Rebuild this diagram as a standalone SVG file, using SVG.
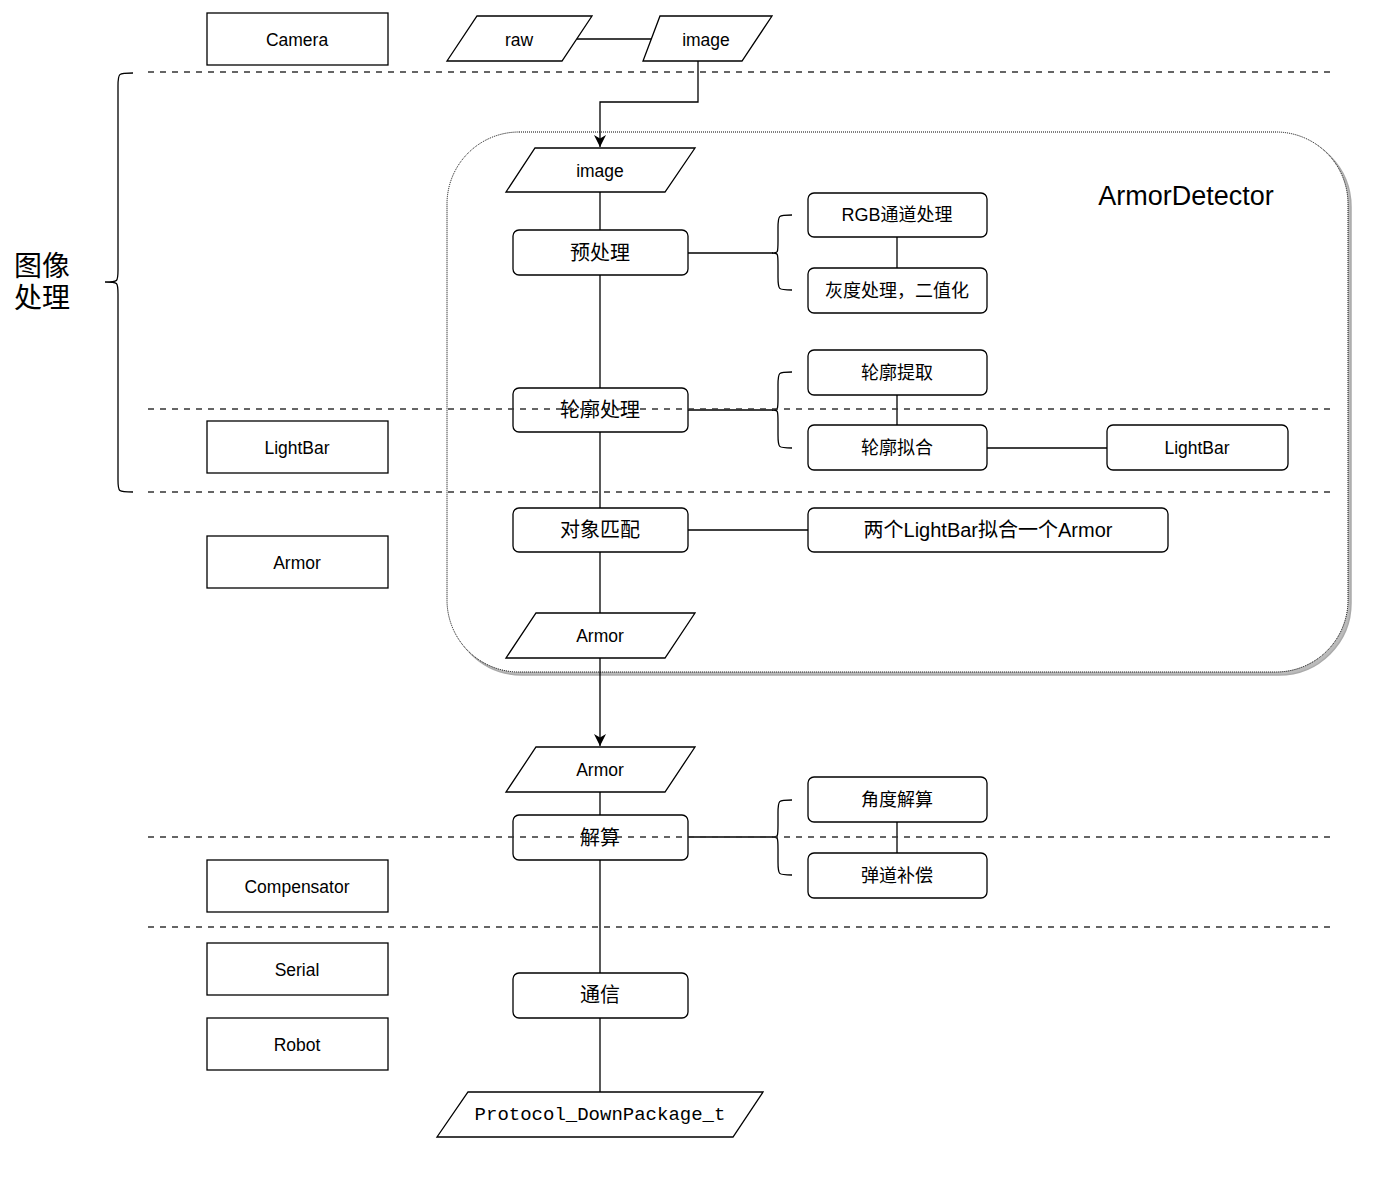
<svg xmlns="http://www.w3.org/2000/svg" width="1400" height="1187" viewBox="0 0 1400 1187">
<style>
.n{fill:#fff;stroke:#000;stroke-width:1.3}
.c{fill:none;stroke:#000;stroke-width:1.3}
.d{fill:none;stroke:#333;stroke-width:1.5;stroke-dasharray:6 6}
.t{font-family:"Liberation Sans","Noto Sans CJK SC",sans-serif;font-size:17.5px;fill:#000;text-anchor:middle;dominant-baseline:central}
.ts{font-family:"Liberation Sans","Noto Sans CJK SC",sans-serif;font-size:18px;fill:#000;text-anchor:middle;dominant-baseline:central}
.tz{font-family:"Liberation Sans","Noto Sans CJK SC",sans-serif;font-size:20px;fill:#000;text-anchor:middle;dominant-baseline:central}
.m{font-family:"Liberation Mono","DejaVu Sans Mono",monospace;font-size:19px;fill:#000;text-anchor:middle;dominant-baseline:central}
</style>
<defs>
<marker id="arr" markerWidth="14" markerHeight="14" refX="12" refY="7" orient="auto" markerUnits="userSpaceOnUse">
<path d="M0,1 L12,7 L0,13 L3.5,7 Z" fill="#000"/>
</marker>
</defs>
<rect width="1400" height="1187" fill="#fff"/>

<g id="armordetector">
<rect x="450" y="135" width="901" height="540" rx="72" fill="#bbb" stroke="#aaa" stroke-width="1.5"/>
<rect x="447" y="132" width="901" height="540" rx="72" fill="#fff" stroke="#000" stroke-width="1" stroke-dasharray="1 1"/>
<text x="1186" y="196" class="t" style="font-size:27px">ArmorDetector</text>
</g>

<g id="connectors">
<line x1="577" y1="39" x2="651" y2="39" class="c"/>
<path d="M698,61 L698,102 L600,102 L600,147" class="c" marker-end="url(#arr)"/>
<line x1="600" y1="192" x2="600" y2="230" class="c"/>
<line x1="600" y1="275" x2="600" y2="388" class="c"/>
<line x1="600" y1="432" x2="600" y2="508" class="c"/>
<line x1="600" y1="552" x2="600" y2="613" class="c"/>
<path d="M600,658 L600,746" class="c" marker-end="url(#arr)"/>
<line x1="600" y1="792" x2="600" y2="815" class="c"/>
<line x1="600" y1="860" x2="600" y2="973" class="c"/>
<line x1="600" y1="1018" x2="600" y2="1092" class="c"/>
<line x1="688" y1="253" x2="773" y2="253" class="c"/>
<line x1="688" y1="410" x2="773" y2="410" class="c"/>
<line x1="688" y1="837" x2="773" y2="837" class="c"/>
<line x1="688" y1="530" x2="808" y2="530" class="c"/>
<line x1="897" y1="237" x2="897" y2="268" class="c"/>
<line x1="897" y1="395" x2="897" y2="425" class="c"/>
<line x1="897" y1="822" x2="897" y2="853" class="c"/>
<line x1="987" y1="448" x2="1107" y2="448" class="c"/>
<path d="M792,215 C778,215 778,215 778,228 L778,241 C778,253 778,253 772,253 C778,253 778,253 778,265 L778,277 C778,290 778,290 792,290" class="c"/>
<path d="M792,372 C778,372 778,372 778,385 L778,398 C778,410 778,410 772,410 C778,410 778,410 778,422 L778,435 C778,448 778,448 792,448" class="c"/>
<path d="M792,800 C778,800 778,800 778,813 L778,825 C778,837 778,837 772,837 C778,837 778,837 778,849 L778,862 C778,875 778,875 792,875" class="c"/>
<path d="M133,73 C118,73 118,73 118,86 L118,270 C118,282 118,282 105,282 C118,282 118,282 118,294 L118,480 C118,492 118,492 133,492" class="c"/>
</g>

<g id="camera"><rect x="207" y="13" width="181" height="52" class="n"/><text x="297" y="40" class="t">Camera</text></g>
<g id="lightbar-left"><rect x="207" y="421" width="181" height="52" class="n"/><text x="297" y="448" class="t">LightBar</text></g>
<g id="armor-left"><rect x="207" y="536" width="181" height="52" class="n"/><text x="297" y="563" class="t">Armor</text></g>
<g id="compensator"><rect x="207" y="860" width="181" height="52" class="n"/><text x="297" y="887" class="t">Compensator</text></g>
<g id="serial"><rect x="207" y="943" width="181" height="52" class="n"/><text x="297" y="970" class="t">Serial</text></g>
<g id="robot"><rect x="207" y="1018" width="181" height="52" class="n"/><text x="297" y="1045" class="t">Robot</text></g>

<g id="raw"><polygon points="477,16 592,16 562,61 447,61" class="n"/><text x="519" y="40" class="t">raw</text></g>
<g id="image-top"><polygon points="660,16 772,16 742,61 643,61" class="n"/><text x="706" y="40" class="t">image</text></g>
<g id="image-in"><polygon points="535,148 695,148 665,192 506,192" class="n"/><text x="600" y="171" class="t">image</text></g>
<g id="preprocess"><rect x="513" y="230" width="175" height="45" rx="6" class="n"/><text x="600" y="253" class="tz">预处理</text></g>
<g id="rgb"><rect x="808" y="193" width="179" height="44" rx="6" class="n"/><text x="897" y="215" class="ts">RGB通道处理</text></g>
<g id="gray"><rect x="808" y="268" width="179" height="45" rx="6" class="n"/><text x="897" y="291" class="ts">灰度处理，二值化</text></g>
<g id="contour"><rect x="513" y="388" width="175" height="44" rx="6" class="n"/><text x="600" y="410" class="tz">轮廓处理</text></g>
<g id="contour-extract"><rect x="808" y="350" width="179" height="45" rx="6" class="n"/><text x="897" y="373" class="ts">轮廓提取</text></g>
<g id="contour-fit"><rect x="808" y="425" width="179" height="45" rx="6" class="n"/><text x="897" y="448" class="ts">轮廓拟合</text></g>
<g id="lightbar-right"><rect x="1107" y="425" width="181" height="45" rx="6" class="n"/><text x="1197" y="448" class="t">LightBar</text></g>
<g id="match"><rect x="513" y="508" width="175" height="44" rx="6" class="n"/><text x="600" y="530" class="tz">对象匹配</text></g>
<g id="match-desc"><rect x="808" y="508" width="360" height="44" rx="6" class="n"/><text x="988" y="530" class="tz">两个LightBar拟合一个Armor</text></g>
<g id="armor-in"><polygon points="536,613 695,613 665,658 506,658" class="n"/><text x="600" y="636" class="t">Armor</text></g>
<g id="armor-out"><polygon points="536,747 695,747 665,792 506,792" class="n"/><text x="600" y="770" class="t">Armor</text></g>
<g id="solve"><rect x="513" y="815" width="175" height="45" rx="6" class="n"/><text x="600" y="838" class="tz">解算</text></g>
<g id="angle"><rect x="808" y="777" width="179" height="45" rx="6" class="n"/><text x="897" y="800" class="ts">角度解算</text></g>
<g id="ballistic"><rect x="808" y="853" width="179" height="45" rx="6" class="n"/><text x="897" y="876" class="ts">弹道补偿</text></g>
<g id="comm"><rect x="513" y="973" width="175" height="45" rx="6" class="n"/><text x="600" y="995" class="tz">通信</text></g>
<g id="protocol"><polygon points="468,1092 763,1092 733,1137 437,1137" class="n"/><text x="600" y="1115" class="m">Protocol_DownPackage_t</text></g>

<g id="label-image-processing">
<text x="42" y="266" class="tz" style="font-size:28px">图像</text>
<text x="42" y="298" class="tz" style="font-size:28px">处理</text>
</g>

<g id="separators">
<line x1="148" y1="72" x2="1332" y2="72" class="d"/>
<line x1="148" y1="409" x2="1332" y2="409" class="d"/>
<line x1="148" y1="492" x2="1332" y2="492" class="d"/>
<line x1="148" y1="837" x2="1332" y2="837" class="d"/>
<line x1="148" y1="927" x2="1332" y2="927" class="d"/>
</g>
</svg>
